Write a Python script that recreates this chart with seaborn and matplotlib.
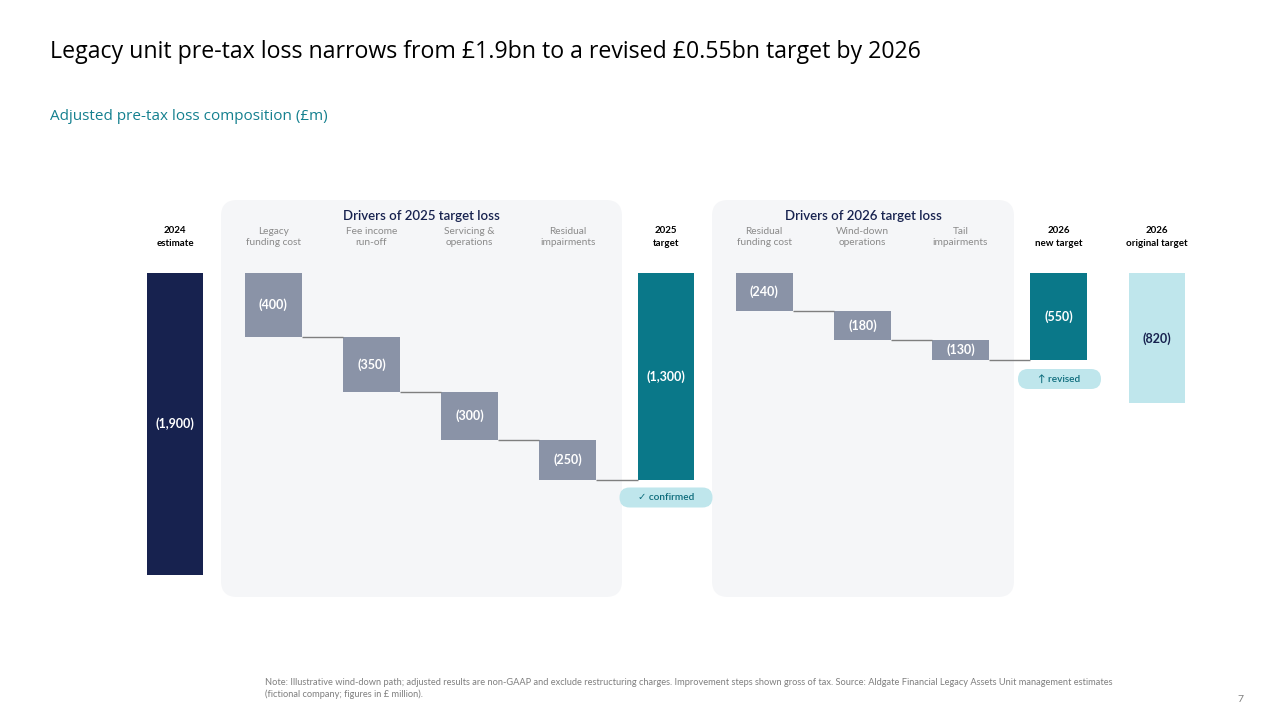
import numpy as np
import pandas as pd
import matplotlib
matplotlib.use("Agg")
import matplotlib.pyplot as plt
from matplotlib.patches import FancyBboxPatch
from matplotlib.transforms import Affine2D
import seaborn as sns

# ---------------- data ----------------
categories = ["2024\nestimate", "Legacy\nfunding cost", "Fee income\nrun-off",
              "Servicing &\noperations", "Residual\nimpairments", "2025\ntarget",
              "Residual\nfunding cost", "Wind-down\noperations", "Tail\nimpairments",
              "2026\nnew target", "2026\noriginal target"]
values = [1900, 400, 350, 300, 250, 1300, 240, 180, 130, 550, 820]
kinds = ["total", "step", "step", "step", "step", "total",
         "step", "step", "step", "total", "total"]
labels = ["(1,900)", "(400)", "(350)", "(300)", "(250)", "(1,300)",
          "(240)", "(180)", "(130)", "(550)", "(820)"]
group_titles = ["Drivers of 2025 target loss", "Drivers of 2026 target loss"]
title = "Legacy unit pre-tax loss narrows from £1.9bn to a revised £0.55bn target by 2026"
subtitle = "Adjusted pre-tax loss composition (£m)"
note = ("Note: Illustrative wind-down path; adjusted results are non-GAAP and exclude restructuring charges. "
        "Improvement steps shown gross of tax. Source: Aldgate Financial Legacy Assets Unit management estimates\n"
        "(fictional company; figures in £ million).")

# ---------------- derived waterfall ----------------
bottoms = []
run = 0
for v, k in zip(values, kinds):
    if k == "total":
        bottoms.append(0)
        run = 0
    else:
        bottoms.append(run)
        run += v
df = pd.DataFrame({"cat": categories, "val": values, "bottom": bottoms})

NAVY = "#17224f"
STEP = "#8a93a7"
TEAL = "#0a7889"
LIGHT = "#bfe6ec"
PANEL = "#f5f6f8"
colors = [NAVY, STEP, STEP, STEP, STEP, TEAL, STEP, STEP, STEP, TEAL, LIGHT]

sns.set_theme(style="white")
plt.rcParams["font.family"] = ["Lato", "DejaVu Sans"]

W, H = 1280, 720
fig = plt.figure(figsize=(12.8, 7.2), dpi=100)
fig.patch.set_facecolor("white")
# pixel transform (x right, y down from top)
PX = Affine2D().scale(1 / 100, -1 / 100).translate(0, 7.2) + fig.dpi_scale_trans

# axes geometry: bar centres at 175 + 98.2*i px ; value 0 at y=273 px, 1900 at y=575 px
step_px = 98.2
left_px = 175 - step_px / 2
ppu = (575 - 273) / 1900.0
ax = fig.add_axes([left_px / W, 0, 11 * step_px / W, 1])
ax.set_facecolor("none")
ax.patch.set_alpha(0)

sns.barplot(data=df, x="cat", y="val", order=categories, bottom=df["bottom"].values,
            width=0.58, color=STEP, ax=ax, saturation=1, errorbar=None, zorder=3)
for p, c in zip(ax.patches, colors):
    p.set_facecolor(c)
    p.set_edgecolor("none")

ax.set_xlim(-0.5, 10.5)
ax.set_ylim((H - 273) / ppu, -273 / ppu)
ax.axis("off")

# value labels
for i, (v, b, lab) in enumerate(zip(values, bottoms, labels)):
    tc = NAVY if colors[i] == LIGHT else "white"
    ax.text(i, b + v / 2, lab, ha="center", va="center", color=tc,
            fontsize=9, fontweight="bold", zorder=5)

# connectors
hw = 0.29
for i in range(len(values) - 1):
    if kinds[i] == "step":
        lvl = bottoms[i] + values[i]
        ax.plot([i + hw, i + 1 - hw], [lvl, lvl], color="#7f7f7f", lw=1.0, zorder=4,
                solid_capstyle="butt")

# panels
for (x0, x1) in [(221, 622), (712, 1014)]:
    fig.add_artist(FancyBboxPatch((x0, 200), x1 - x0, 397,
                                  boxstyle="round,pad=0,rounding_size=16",
                                  transform=PX, facecolor=PANEL, edgecolor="none", zorder=-5))
for (cx, t) in zip([421.5, 863], group_titles):
    fig.text(cx / W, 1 - 216 / H, t, ha="center", va="center", fontsize=9.5,
             color=NAVY, fontweight="semibold")

# header labels
for i, (c, k) in enumerate(zip(categories, kinds)):
    cx = 175 + step_px * i
    if k == "total":
        fig.text(cx / W, 1 - 237 / H, c, ha="center", va="center", fontsize=7,
                 color="black", fontweight="bold", linespacing=1.45)
    else:
        fig.text(cx / W, 1 - 237 / H, c, ha="center", va="center", fontsize=7.3,
                 color="#8a8a8a", fontweight="normal", linespacing=1.4)

# badges
for (cx, cy, w, t) in [(666, 497.5, 93, "\u2713 confirmed"), (1059.5, 379, 83, "\u2191 revised")]:
    fig.add_artist(FancyBboxPatch((cx - w / 2, cy - 10), w, 20,
                                  boxstyle="round,pad=0,rounding_size=10",
                                  transform=PX, facecolor=LIGHT, edgecolor="none", zorder=6))
    fig.text(cx / W, 1 - cy / H, t, ha="center", va="center", fontsize=7.2,
             color="#0a6a7a", fontweight="semibold", zorder=7,
             family=["Lato", "DejaVu Sans"])

# titles
fig.text(50 / W, 1 - 52 / H, title, ha="left", va="center", fontsize=16.7,
         color="black", family=["Open Sans", "DejaVu Sans"])
fig.text(50 / W, 1 - 116 / H, subtitle, ha="left", va="center", fontsize=11,
         color="#14808f", family=["Open Sans", "DejaVu Sans"])
fig.text(265 / W, 1 - 688.5 / H, note, ha="left", va="center", fontsize=6.7,
         color="#7f7f7f", linespacing=1.35)
fig.text(1240 / W, 1 - 700 / H, "7", ha="center", va="center", fontsize=7.5, color="#7f7f7f")

fig.savefig("out.png", dpi=100, facecolor="white")
